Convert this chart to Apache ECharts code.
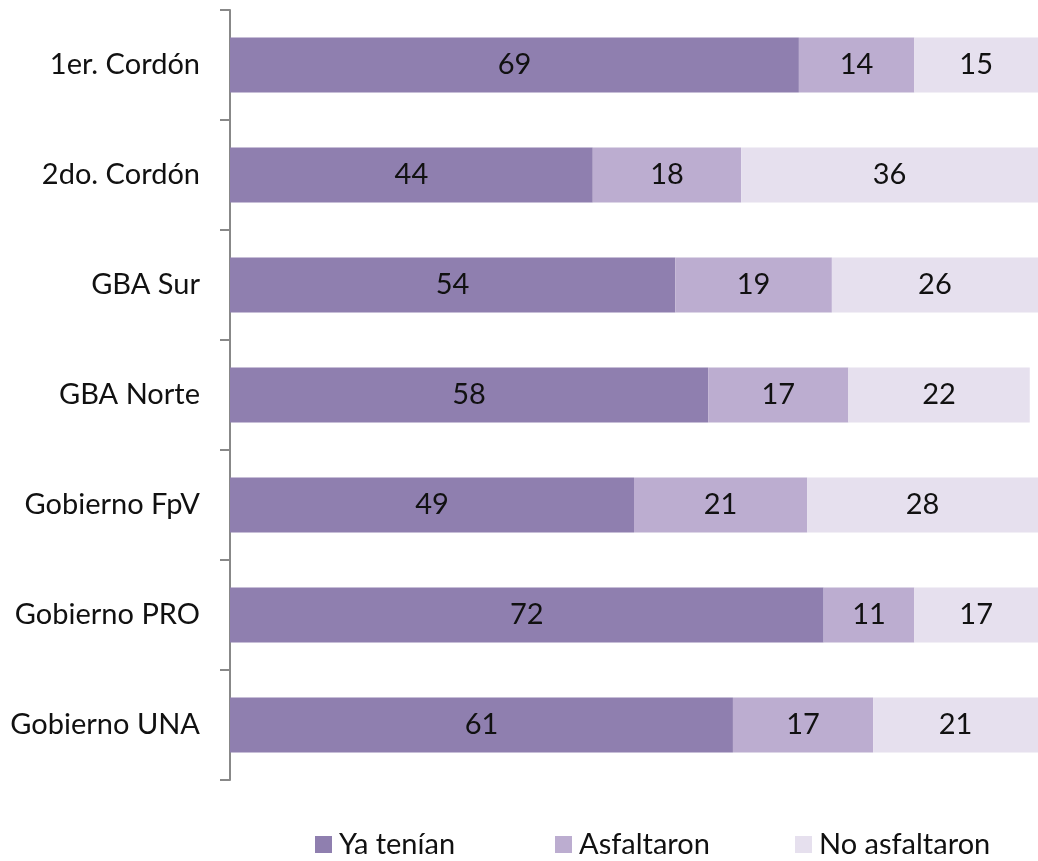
<!DOCTYPE html>
<html><head><meta charset="utf-8">
<script src="https://cdn.jsdelivr.net/npm/echarts@6/dist/echarts.min.js"></script>
<style>html,body{margin:0;padding:0;background:#fff}#c{width:1038px;height:861px}</style>
</head><body><div id="c"></div>
<script>
const categories = ["1er. Cordón","2do. Cordón","GBA Sur","GBA Norte","Gobierno FpV","Gobierno PRO","Gobierno UNA"];
const yaTenian = [69,44,54,58,49,72,61];
const asfaltaron = [14,18,19,17,21,11,17];
const noAsfaltaron = [15,36,26,22,28,17,21];
const seriesNames = ["Ya tenían","Asfaltaron","No asfaltaron"];
const colors = ["#8F7FAF","#BCADD0","#E6E0EE"];
const legendLefts = [315, 555, 795];
const font = "Lato, 'Open Sans', sans-serif";
const chart = echarts.init(document.getElementById('c'));
const mk = (name, data, color) => ({
  name, type:'bar', stack:'t', data, barWidth:'50%',
  itemStyle:{color},
  label:{show:true, position:'inside', color:'#111', fontSize:29, fontFamily:font},
  emphasis:{disabled:true}
});
chart.setOption({
  animation:false,
  textStyle:{fontFamily:font},
  grid:{left:230, right:0, top:10, height:770, containLabel:false},
  xAxis:{type:'value', min:0, max:98, show:false},
  yAxis:{type:'category', data:categories, inverse:true,
    axisLine:{show:true, lineStyle:{color:'#888', width:2}},
    axisTick:{show:true, length:10, lineStyle:{color:'#888', width:2}},
    axisLabel:{color:'#111', fontSize:29, fontFamily:font, margin:30},
    splitLine:{show:false}},
  legend: seriesNames.map((n, i) => ({
    bottom:-3, left:legendLefts[i], padding:[5,5,5,0], itemWidth:17, itemHeight:17, itemGap:0,
    icon:'rect', textStyle:{fontSize:29, color:'#111', fontFamily:font, padding:[0,0,0,2]},
    data:[n]
  })),
  series:[mk(seriesNames[0], yaTenian, colors[0]), mk(seriesNames[1], asfaltaron, colors[1]), mk(seriesNames[2], noAsfaltaron, colors[2])]
});
</script></body></html>
